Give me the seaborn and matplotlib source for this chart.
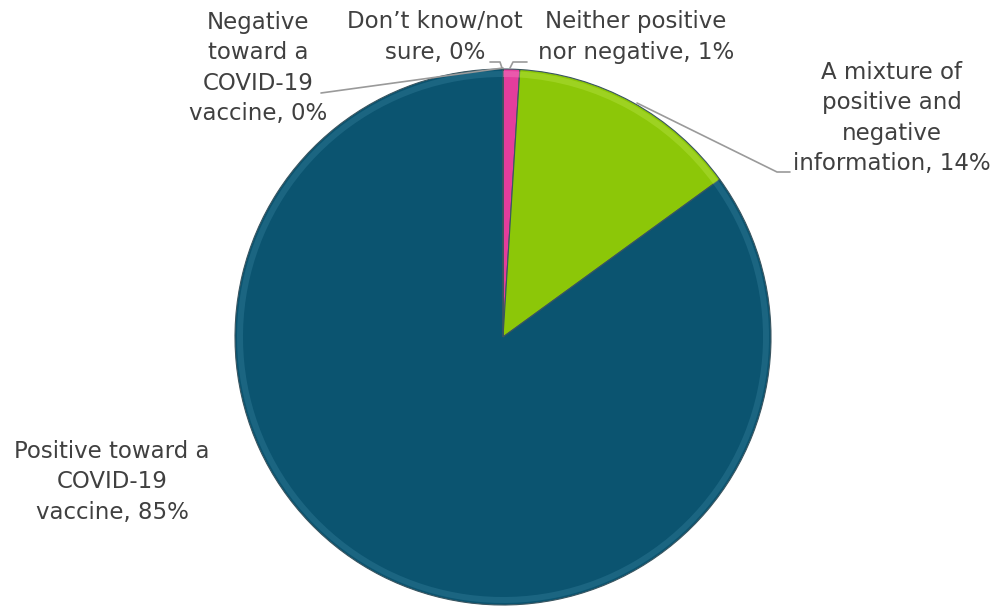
import matplotlib
matplotlib.use("Agg")
import matplotlib.pyplot as plt
import matplotlib.patches as mp
import seaborn as sns

# ---- data ----
categories = [
    "Neither positive\nnor negative",
    "A mixture of\npositive and\nnegative\ninformation",
    "Positive toward a\nCOVID-19\nvaccine",
    "Negative\ntoward a\nCOVID-19\nvaccine",
    "Don\u2019t know/not\nsure",
]
values = [1, 14, 85, 0, 0]
colors = ["#E43D9C", "#8CC708", "#0B5470", "#0B5470", "#0B5470"]

sns.set_theme(style="white")
plt.rcParams["font.family"] = ["DejaVu Sans"]

W, H = 998, 608
fig = plt.figure(figsize=(W / 100, H / 100), dpi=100)
ax = fig.add_axes([0, 0, 1, 1])

cx, cy, R = 503, H - 337, 268
wedges, _ = ax.pie(values, colors=colors, startangle=90, counterclock=False,
                   center=(cx, cy), radius=R, frame=True,
                   wedgeprops=dict(edgecolor="#3a5560", linewidth=0.8))
ax.set_xlim(0, W)
ax.set_ylim(0, H)
ax.set_aspect("equal")
ax.axis("off")

# subtle bevel rim
for w, c in zip(wedges[:3], ["#F27CC0", "#B3E040", "#2F7A96"]):
    rim = mp.Wedge((cx, cy), R - 2, w.theta1, w.theta2, width=6,
                   facecolor=c, edgecolor="none", alpha=0.45)
    ax.add_patch(rim)

txt = dict(color="#404040", fontsize=16.5, ha="center", va="center",
           linespacing=1.4)
labels = [f"{c}, {v}%" for c, v in zip(categories, values)]

def y(p):
    return H - p

# label positions (pixel coords, top-origin)
ax.text(636, y(37), labels[0], **txt)
ax.text(892, y(118), labels[1], **txt)
ax.text(112, y(482), labels[2], **txt)
ax.text(258, y(68), labels[3], **txt)
ax.text(435, y(37), labels[4], **txt)

lc = dict(color="#9a9a9a", linewidth=1.2)
ax.plot([527, 513, 510], [y(62), y(62), y(68)], **lc)
ax.plot([790, 777, 637], [y(172), y(172), y(103)], **lc)
ax.plot([321, 503], [y(93), y(68)], **lc)
ax.plot([490, 500, 502], [y(62), y(62), y(68)], **lc)

fig.savefig("out.png", dpi=100)
